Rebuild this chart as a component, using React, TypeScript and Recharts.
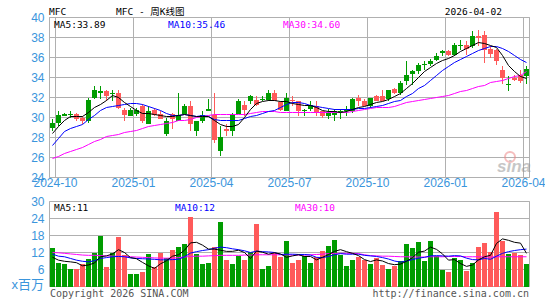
import React from "react";
import { Bar, CartesianGrid, ComposedChart, Line, ReferenceArea, XAxis, YAxis } from "recharts";

// weekly bars, oldest first (80 weeks)
const opens = [
  29.0, 29.5, 30.2, 30.3, 30.4, 30.0, 29.7, 32.0, 32.5, 32.6,
  32.4, 32.5, 30.8, 30.2, 30.4, 31.1, 29.4, 30.8, 30.3, 28.4,
  30.3, 29.7, 30.4, 31.2, 28.7, 29.6, 30.7, 30.3, 26.6, 28.9,
  28.6, 30.4, 31.3, 31.7, 31.8, 31.8, 31.8, 32.5, 31.6, 30.7,
  31.8, 31.6, 30.7, 30.9, 31.2, 30.6, 30.2, 30.3, 30.5, 30.7,
  30.7, 32.0, 31.7, 31.1, 32.1, 32.1, 31.9, 32.9, 32.5, 33.6,
  34.4, 34.6, 35.3, 35.4, 35.7, 36.5, 36.6, 36.2, 37.2, 37.3,
  37.1, 38.1, 38.2, 36.9, 36.8, 34.8, 33.3, 34.0, 34.3, 34.1,
];
const highs = [
  29.9, 30.7, 30.5, 30.7, 30.5, 30.2, 32.0, 33.1, 33.1, 32.7,
  32.8, 32.7, 31.0, 31.0, 31.0, 31.3, 31.1, 31.0, 30.6, 30.0,
  30.5, 32.5, 31.4, 31.7, 29.7, 30.7, 31.8, 32.5, 29.2, 29.4,
  30.5, 31.8, 31.6, 32.2, 32.1, 32.1, 32.7, 32.7, 31.7, 32.5,
  32.1, 31.7, 30.9, 31.6, 31.7, 30.7, 30.9, 30.9, 30.8, 31.1,
  32.0, 32.3, 31.9, 32.0, 32.2, 32.7, 32.7, 33.0, 33.6, 35.6,
  34.7, 35.5, 35.6, 35.9, 36.5, 36.8, 36.8, 37.5, 37.7, 37.6,
  38.6, 38.7, 38.6, 37.1, 36.9, 35.1, 34.1, 34.2, 34.8, 35.1,
];
const lows = [
  28.7, 29.2, 30.1, 30.0, 29.7, 29.4, 29.5, 31.9, 31.9, 31.7,
  31.7, 30.8, 29.6, 30.1, 30.1, 29.5, 29.3, 30.1, 29.8, 28.1,
  28.9, 29.6, 30.3, 28.7, 28.2, 29.5, 30.6, 27.5, 26.1, 28.2,
  28.1, 30.3, 30.1, 31.4, 31.2, 31.7, 31.7, 31.6, 30.7, 30.6,
  31.1, 30.1, 30.1, 30.7, 30.2, 30.0, 29.8, 29.7, 29.8, 30.1,
  30.5, 31.1, 31.1, 31.0, 31.6, 31.6, 31.7, 32.4, 32.3, 33.2,
  33.3, 34.4, 34.7, 35.1, 35.6, 36.1, 36.1, 36.1, 36.7, 36.2,
  37.0, 37.1, 35.5, 36.0, 35.3, 33.4, 32.6, 33.6, 33.5, 33.4,
];
const closes = [
  29.5, 30.3, 30.4, 30.4, 29.9, 29.6, 31.8, 32.7, 32.6, 32.1,
  32.5, 31.0, 30.3, 30.8, 30.8, 29.7, 30.7, 30.3, 29.9, 29.7,
  29.8, 30.3, 31.2, 29.4, 29.6, 30.3, 30.8, 27.8, 28.1, 28.7,
  30.3, 31.7, 30.8, 32.1, 31.3, 31.9, 32.5, 31.7, 30.8, 32.0,
  31.7, 30.6, 30.8, 31.3, 30.6, 30.1, 30.5, 30.7, 30.6, 30.8,
  31.9, 31.6, 31.2, 32.0, 31.7, 31.7, 32.7, 32.5, 33.5, 34.3,
  34.6, 35.2, 35.4, 35.6, 36.1, 36.6, 36.2, 37.3, 37.3, 36.9,
  38.1, 38.0, 36.7, 36.4, 35.6, 34.0, 33.4, 33.8, 33.6, 34.9,
];
const ma5 = [
  28.4, 29.1, 29.7, 30.1, 30.1, 30.1, 30.5, 31.0, 31.3, 31.7,
  32.2, 32.0, 31.5, 31.1, 30.7, 30.4, 30.4, 30.3, 30.2, 30.1,
  30.1, 30.2, 30.3, 30.2, 30.1, 30.1, 30.1, 29.7, 29.3, 29.1,
  29.1, 29.3, 30.0, 30.8, 31.4, 31.6, 31.7, 31.7, 31.6, 31.6,
  31.4, 31.3, 31.2, 31.2, 31.0, 30.7, 30.6, 30.6, 30.5, 30.6,
  30.8, 31.0, 31.1, 31.3, 31.5, 31.6, 31.8, 32.1, 32.4, 32.9,
  33.4, 34.0, 34.6, 35.0, 35.4, 35.7, 35.9, 36.2, 36.6, 36.9,
  37.2, 37.5, 37.4, 37.2, 37.0, 36.2, 35.2, 34.6, 34.1, 33.9,
];
const ma10 = [
  27.2, 27.9, 28.6, 28.9, 29.1, 29.3, 29.8, 30.2, 30.7, 31.0,
  31.1, 31.2, 31.3, 31.4, 31.4, 31.3, 31.1, 30.9, 30.7, 30.4,
  30.2, 30.2, 30.3, 30.2, 30.1, 30.2, 30.1, 29.8, 29.7, 29.7,
  29.7, 29.7, 29.9, 30.1, 30.2, 30.4, 30.6, 30.7, 31.0, 31.3,
  31.5, 31.5, 31.4, 31.2, 31.1, 31.0, 30.9, 30.8, 30.8, 30.8,
  30.8, 30.9, 30.9, 31.0, 31.1, 31.2, 31.4, 31.6, 31.7, 32.1,
  32.4, 32.9, 33.2, 33.7, 34.2, 34.7, 35.1, 35.5, 35.8, 36.1,
  36.4, 36.7, 36.9, 37.1, 37.1, 36.9, 36.6, 36.2, 35.8, 35.5,
];
const ma30 = [
  25.9, 26.1, 26.4, 26.6, 26.8, 27.0, 27.3, 27.6, 27.8, 28.1,
  28.2, 28.3, 28.5, 28.6, 28.7, 28.9, 29.1, 29.2, 29.3, 29.4,
  29.5, 29.7, 29.7, 29.8, 30.0, 30.1, 30.2, 30.3, 30.3, 30.3,
  30.3, 30.3, 30.3, 30.4, 30.5, 30.6, 30.6, 30.6, 30.5, 30.5,
  30.5, 30.5, 30.5, 30.5, 30.5, 30.5, 30.5, 30.5, 30.5, 30.5,
  30.6, 30.7, 30.8, 30.9, 31.0, 31.0, 31.0, 31.1, 31.3, 31.5,
  31.6, 31.7, 31.8, 31.9, 32.0, 32.1, 32.2, 32.4, 32.6, 32.7,
  32.9, 33.1, 33.2, 33.5, 33.6, 33.7, 33.9, 34.1, 34.2, 34.6,
];
// volume, millions
const volumes = [
  13.5, 8.3, 7.9, 6.1, 6.1, 8.1, 9.6, 11.7, 17.9, 6.8,
  11.7, 17.4, 11.0, 4.3, 4.5, 5.1, 11.4, 6.9, 11.9, 10.2,
  12.9, 13.8, 15.0, 24.5, 11.6, 7.9, 8.3, 13.8, 22.7, 9.3,
  7.9, 10.7, 9.5, 12.3, 22.1, 6.1, 7.2, 11.7, 10.5, 16.2,
  8.3, 9.3, 10.8, 8.3, 10.5, 12.5, 14.4, 16.4, 11.1, 7.1,
  9.3, 10.5, 9.3, 7.9, 9.9, 7.5, 6.1, 7.1, 8.9, 15.0,
  13.7, 15.8, 9.0, 16.2, 10.7, 5.7, 5.1, 9.9, 9.5, 5.4,
  8.3, 13.8, 15.5, 12.3, 26.2, 16.1, 11.4, 11.9, 11.1, 7.9,
];
const volMa5 = [
  10.3, 9.3, 8.9, 8.7, 8.4, 7.3, 7.6, 8.3, 10.5, 10.8,
  11.5, 13.0, 12.0, 10.2, 9.8, 8.5, 7.3, 6.4, 8.0, 9.1,
  10.7, 11.2, 12.8, 15.4, 15.6, 14.6, 13.2, 13.2, 12.8, 12.4,
  12.4, 12.8, 12.0, 9.9, 12.5, 12.1, 11.4, 11.9, 11.5, 10.3,
  10.8, 11.2, 10.6, 10.6, 9.4, 10.3, 11.3, 12.4, 13.0, 12.3,
  11.7, 10.9, 9.5, 8.8, 9.4, 9.0, 8.1, 7.7, 7.9, 8.9,
  10.2, 12.1, 12.5, 13.9, 13.1, 11.5, 9.3, 9.5, 8.1, 7.1,
  7.6, 9.4, 10.5, 11.0, 15.2, 16.8, 16.3, 15.6, 15.3, 11.7,
];
const volMa10 = [
  11.4, 10.7, 10.5, 9.9, 9.3, 8.9, 8.7, 9.1, 9.9, 10.2,
  10.5, 10.6, 10.5, 10.1, 9.9, 9.8, 9.7, 9.6, 9.4, 9.4,
  9.5, 9.6, 10.5, 11.8, 12.3, 12.7, 13.0, 13.5, 13.9, 13.7,
  13.3, 13.0, 12.6, 12.0, 12.5, 12.3, 12.2, 12.0, 11.3, 11.4,
  11.4, 11.3, 11.3, 11.1, 10.3, 10.2, 10.6, 11.2, 11.6, 11.4,
  11.4, 11.4, 11.0, 10.8, 10.6, 10.2, 9.7, 9.0, 8.6, 9.0,
  9.5, 10.0, 10.3, 10.8, 10.9, 10.8, 10.7, 10.9, 10.8, 10.0,
  9.5, 9.4, 9.9, 9.6, 10.7, 11.7, 12.3, 12.7, 13.0, 13.2,
];
const volMa30 = [
  12.0, 11.9, 11.7, 11.5, 11.3, 11.1, 11.0, 11.0, 10.9, 10.8,
  10.7, 10.7, 10.6, 10.5, 10.4, 10.3, 10.2, 10.1, 10.0, 10.0,
  10.0, 10.2, 10.4, 10.6, 10.7, 10.7, 10.8, 10.9, 11.0, 11.0,
  11.0, 11.0, 11.1, 11.1, 11.2, 11.2, 11.2, 11.2, 11.2, 11.2,
  11.1, 11.1, 11.1, 11.2, 11.3, 11.4, 11.6, 11.7, 11.7, 11.7,
  11.7, 11.6, 11.2, 10.9, 10.8, 10.7, 10.7, 10.6, 10.5, 10.5,
  10.4, 10.4, 10.4, 10.5, 10.5, 10.5, 10.6, 10.6, 10.6, 10.5,
  10.5, 10.5, 10.4, 10.4, 10.5, 10.5, 10.5, 10.5, 10.5, 10.5,
];

const weekTicks = [0.5, 13.5, 26.5, 39.5, 52.5, 65.5, 78.5];
const weekLabels = ["2024-10", "2025-01", "2025-04", "2025-07", "2025-10", "2026-01", "2026-04"];
const priceTicks = [24, 26, 28, 30, 32, 34, 36, 38, 40];
const volumeTicks = [0, 6, 12, 18, 24, 30];

const UP = "#009c00";
const DOWN = "#ff5a5a";
const AXIS_TXT = "#3a95dc";
const GRID = "#b0b0b0";
const MONO = "'DejaVu Sans Mono', 'Noto Sans CJK SC', monospace";
const SANS = "'Liberation Sans', Arial, 'Noto Sans CJK SC', sans-serif";

const rows = closes.map((c, i) => ({
  i,
  o: opens[i],
  h: highs[i],
  l: lows[i],
  c,
  range: [lows[i], highs[i]],
  ma5: ma5[i],
  ma10: ma10[i],
  ma30: ma30[i],
  vol: volumes[i],
  vma5: volMa5[i],
  vma10: volMa10[i],
  vma30: volMa30[i],
}));

const Candle = (props: any) => {
  const { x, y, width, height, payload } = props;
  const { o, c, h, l } = payload;
  const color = c >= o ? UP : DOWN;
  const k = height / (h - l);
  const yOf = (v: number) => y + (h - v) * k;
  const left = Math.round(x + width / 2 - 2.5);
  const top = Math.round(yOf(Math.max(o, c)));
  const bot = Math.round(yOf(Math.min(o, c)));
  const wTop = Math.round(y);
  const wBot = Math.round(y + height);
  return (
    <g shapeRendering="crispEdges">
      <rect x={left + 2} y={wTop} width={1} height={Math.max(1, wBot - wTop)} fill={color} />
      <rect x={left} y={top} width={5} height={Math.max(1, bot - top)} fill={color} />
    </g>
  );
};

const VolBar = (props: any) => {
  const { x, y, width, height, payload } = props;
  const left = Math.round(x + width / 2 - 2.5);
  const top = Math.round(y);
  const bot = Math.round(y + height);
  return (
    <rect
      x={left}
      y={top}
      width={5}
      height={Math.max(0, bot - top)}
      fill={payload.c >= payload.o ? UP : DOWN}
      shapeRendering="crispEdges"
    />
  );
};

const tickStyle = { fill: AXIS_TXT, fontSize: 12, fontFamily: SANS };

const PriceChart = () => (
  <ComposedChart width={545} height={200} data={rows} margin={{ top: 17.5, right: 15.5, bottom: 2.5, left: 0 }}>
    <CartesianGrid stroke={GRID} />
    <XAxis
      dataKey="i"
      type="number"
      domain={[-0.5, 79.5]}
      ticks={weekTicks}
      interval={0}
      tickFormatter={(v: number) => weekLabels[weekTicks.indexOf(v)]}
      axisLine={false}
      tickLine={false}
      tickSize={0}
      tickMargin={1}
      height={20}
      tick={tickStyle}
    />
    <YAxis
      domain={[24, 40]}
      ticks={priceTicks}
      interval={0}
      width={49.5}
      axisLine={false}
      tickLine={false}
      tickSize={0}
      tickMargin={5}
      tick={tickStyle}
    />
    <ReferenceArea x1={-0.5} x2={79.5} y1={24} y2={40} fill="none" stroke={GRID} />
    <Bar dataKey="range" barSize={5} shape={Candle} isAnimationActive={false} />
    <Line dataKey="ma30" type="linear" stroke="#ff00ff" strokeWidth={1} dot={false} activeDot={false} isAnimationActive={false} />
    <Line dataKey="ma10" type="linear" stroke="#0000ff" strokeWidth={1} dot={false} activeDot={false} isAnimationActive={false} />
    <Line dataKey="ma5" type="linear" stroke="#000000" strokeWidth={1} dot={false} activeDot={false} isAnimationActive={false} />
  </ComposedChart>
);

const VolumeChart = () => (
  <ComposedChart width={545} height={110} data={rows} margin={{ top: 11.5, right: 15.5, bottom: 13.5, left: 0 }}>
    <CartesianGrid stroke={GRID} vertical={false} />
    <XAxis dataKey="i" type="number" domain={[-0.5, 79.5]} hide />
    <YAxis
      domain={[0, 30]}
      ticks={volumeTicks}
      interval={0}
      width={49.5}
      axisLine={false}
      tickLine={false}
      tickSize={0}
      tickMargin={5}
      tick={tickStyle}
      tickFormatter={(v: number) => (v === 0 ? "" : String(v))}
    />
    <ReferenceArea x1={-0.5} x2={79.5} y1={0} y2={30} fill="none" stroke={GRID} />
    <Bar dataKey="vol" barSize={5} shape={VolBar} isAnimationActive={false} />
    <Line dataKey="vma30" type="linear" stroke="#ff00ff" strokeWidth={1} dot={false} activeDot={false} isAnimationActive={false} />
    <Line dataKey="vma10" type="linear" stroke="#0000ff" strokeWidth={1} dot={false} activeDot={false} isAnimationActive={false} />
    <Line dataKey="vma5" type="linear" stroke="#000000" strokeWidth={1} dot={false} activeDot={false} isAnimationActive={false} />
  </ComposedChart>
);

export default function App() {
  return (
    <div style={{ position: "absolute", left: 0, top: 0, width: 545, height: 300, background: "#fff", overflow: "hidden" }}>
      <div style={{ position: "absolute", left: 0, top: 0 }}>
        <PriceChart />
      </div>
      <div style={{ position: "absolute", left: 0, top: 190 }}>
        <VolumeChart />
      </div>
      <svg width={545} height={300} style={{ position: "absolute", left: 0, top: 0, pointerEvents: "none" }}>
        <g fontFamily={MONO} fontSize={9.5}>
          <text x={49} y={15} fill="#000">MFC</text>
          <text x={116} y={15} fill="#000">MFC - 周K线图</text>
          <text x={502} y={15} fill="#000" textAnchor="end">2026-04-02</text>
          <text x={54} y={28} fill="#000">MA5:33.89</text>
          <text x={168} y={28} fill="#0000ff">MA10:35.46</text>
          <text x={283} y={28} fill="#ff00ff">MA30:34.60</text>
          <text x={54} y={211} fill="#000">MA5:11</text>
          <text x={175} y={211} fill="#0000ff">MA10:12</text>
          <text x={295} y={211} fill="#ff00ff">MA30:10</text>
        </g>
        <g fontFamily={MONO} fontSize={10} fill="#555">
          <text x={50} y={297}>Copyright 2026 SINA.COM</text>
          <text x={529} y={297} textAnchor="end">http://finance.sina.com.cn</text>
        </g>
        <text x={44} y={289} textAnchor="end" fontFamily={SANS} fontSize={13} fill={AXIS_TXT}>x百万</text>
        <g opacity={0.55}>
          <circle cx={510} cy={157} r={5} fill="none" stroke="#e88" strokeWidth={2} />
          <text x={497} y={172} fontFamily={SANS} fontSize={17} fontStyle="italic" fontWeight="bold" fill="#999">sina</text>
        </g>
      </svg>
    </div>
  );
}
